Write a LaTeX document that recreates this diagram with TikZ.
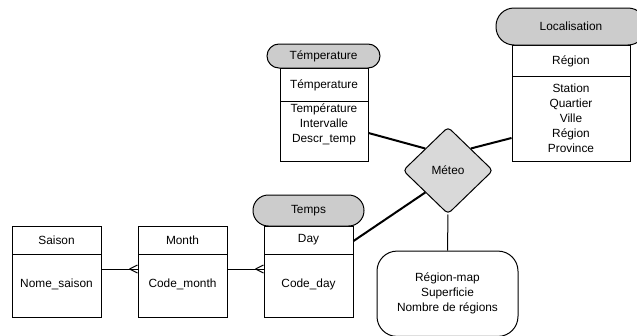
\documentclass[tikz,border=0pt]{standalone}
\usepackage{fontspec}
\setmainfont{Liberation Sans}
\usetikzlibrary{shapes.geometric,calc}

\tikzset{every picture/.style={line width=0.75pt}}
\tikzset{
  entete/.style={draw, fill=black!20, inner sep=0pt},
  boite/.style={draw, inner sep=0pt},
  lien/.style={line width=1.5pt},
  patte/.pic={\draw (-8,0) -- (0,-4) (-8,0) -- (0,4);}
}

\begin{document}
\begin{tikzpicture}[x=0.75pt,y=0.75pt,yscale=-1,xscale=1,
  every node/.style={font=\fontsize{8.9}{11.25}\selectfont, align=center}]
\useasboundingbox (0,0) rectangle (637,336);
\clip (0,0) rectangle (637,336);

%Shape: Témperature
\node[boite, minimum width=66pt, minimum height=69.75pt] (tempB) at (324,114.5) {};
\node[entete, rounded corners=9pt, minimum width=84.75pt, minimum height=18pt] (tempH) at (323.5,56) {Témperature};
\draw (280,101) -- (368,101);
\node (tempT) at (324,85) {Témperature};
\node (tempA) at (324,124) {Température\\Intervalle\\Descr\_temp};

%Shape: Localisation
\node[boite, minimum width=88.5pt, minimum height=87pt] (locB) at (571,103) {};
\node[entete, rounded corners=13.5pt, minimum width=112.5pt, minimum height=27.75pt] (locH) at (571,26.5) {Localisation};
\draw (512,76) -- (630,76);
\node (locT) at (571,61) {Région};
\node (locA) at (571,118) {Station\\Quartier\\Ville\\Région\\Province};

%Shape: Méteo
\node[draw, diamond, fill=black!15, rounded corners=3pt, minimum width=67.5pt, minimum height=65.25pt, inner sep=0pt] (meteo) at (448,170.5) {Méteo};

%Shape: Temps
\node[boite, minimum width=66.75pt, minimum height=68.25pt] (dayB) at (308.5,271.5) {};
\node[entete, rounded corners=11.5pt, minimum width=83.25pt, minimum height=23.25pt] (dayH) at (308.5,210.5) {Temps};
\draw (264,254) -- (353,254);
\node (dayT) at (308.5,240) {Day};
\node (dayA) at (308.5,284) {Code\_day};

%Shape: Month
\node[boite, minimum width=66.75pt, minimum height=68.25pt] (monthB) at (182.5,271.5) {};
\draw (138,254) -- (227,254);
\node (monthT) at (182.5,240) {Month};
\node (monthA) at (182.5,284) {Code\_month};

%Shape: Saison
\node[boite, minimum width=66.75pt, minimum height=68.25pt] (saisonB) at (56.5,271.5) {};
\draw (12,254) -- (101,254);
\node (saisonT) at (56.5,240) {Saison};
\node (saisonA) at (56.5,284) {Nome\_saison};

%Shape: Région-map
\node[draw, rounded corners=15pt, minimum width=105.75pt, minimum height=64pt] (mapB) at (447.5,293.75) {Région-map\\Superficie\\Nombre de régions};

%Connectors
\draw[lien] ($(tempB.east)+(0,18.5)$) -- (meteo.north west);
\draw[lien] ($(locB.west)+(0,35)$) -- (meteo.north east);
\draw[lien] ($(dayB.east)+(0,-30.5)$) -- (meteo.south west);
\draw (meteo.south) -- (mapB.north);
\draw ($(saisonB.east)+(0,-2.5)$) -- ($(monthB.west)+(0,-2.5)$);
\pic at ($(monthB.west)+(0,-2.5)$) {patte};
\draw ($(monthB.east)+(0,-2.5)$) -- ($(dayB.west)+(0,-2.5)$);
\pic at ($(dayB.west)+(0,-2.5)$) {patte};

\end{tikzpicture}
\end{document}
